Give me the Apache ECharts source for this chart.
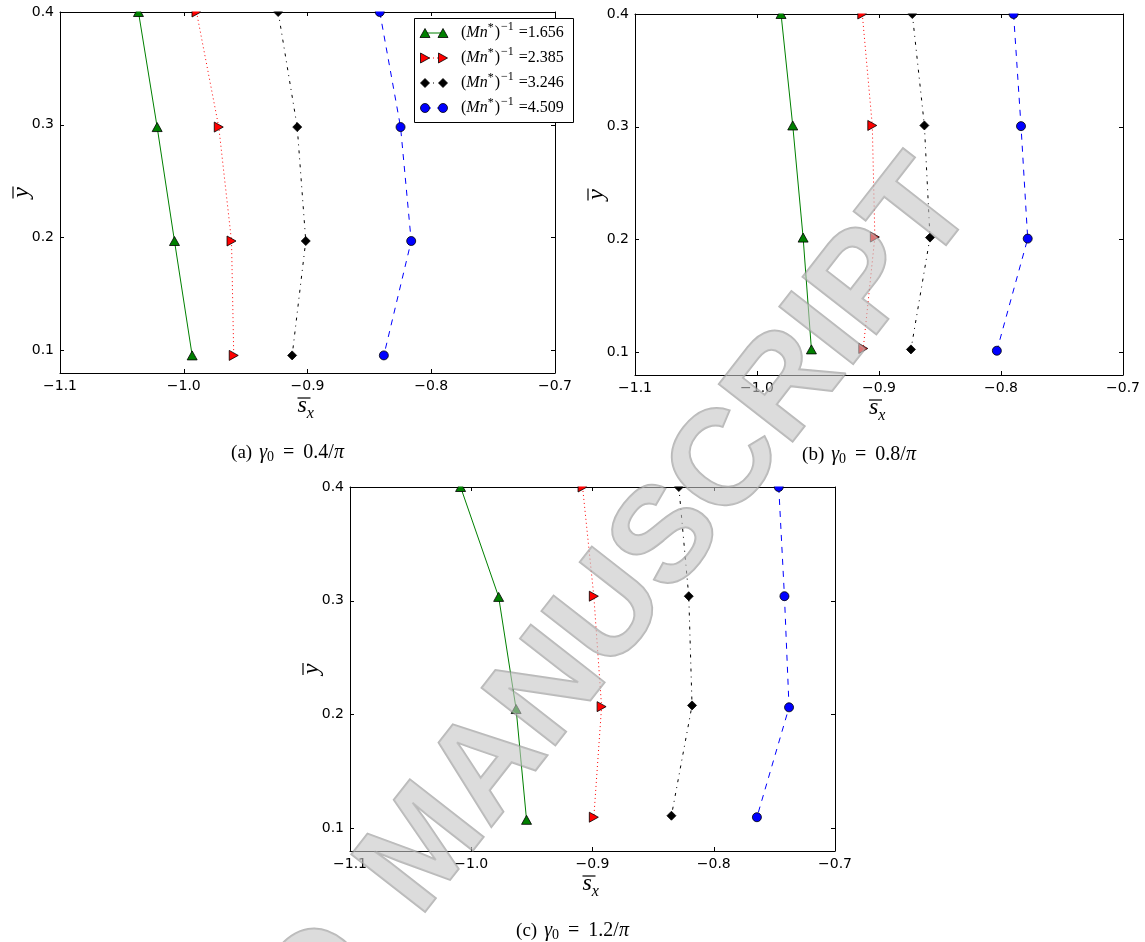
<!DOCTYPE html>
<html>
<head>
<meta charset="utf-8">
<title>Shear stress profiles</title>
<script src="https://cdn.jsdelivr.net/npm/echarts@6/dist/echarts.min.js"></script>
<style>
  html, body { margin: 0; padding: 0; background: #ffffff; }
  #chart { width: 1145px; height: 942px; }
</style>
</head>
<body>
<div id="chart"></div>
<script>
// ---- tick labels ----
const xTicks = [-1.1, -1.0, -0.9, -0.8, -0.7];
const yTicks = [0.1, 0.2, 0.3, 0.4];

// ---- legend values (Mn*)^-1 ----
const invMn = ['1.656', '2.385', '3.246', '4.509'];

// ---- panel captions (gamma_0 values) ----
const panelTags = ['(a)', '(b)', '(c)'];
const gamma0 = ['0.4/', '0.8/', '1.2/'];

// ---- panel (a): gamma_0 = 0.4/pi ----
const ysA = [0.400, 0.298, 0.197, 0.0956];
const sxA_1656 = [-1.0366, -1.0215, -1.0075, -0.9932];
const sxA_2385 = [-0.9897, -0.9717, -0.9614, -0.9596];
const sxA_3246 = [-0.9237, -0.9083, -0.9014, -0.9124];
const sxA_4509 = [-0.8416, -0.8248, -0.8162, -0.8383];

// ---- panel (b): gamma_0 = 0.8/pi ----
const ysB_1656 = [0.400, 0.3012, 0.2018, 0.1027];
const ysB_2385 = [0.400, 0.3012, 0.2023, 0.1035];
const ysB_3246 = [0.400, 0.3012, 0.2018, 0.1027];
const ysB_4509 = [0.400, 0.3006, 0.2009, 0.1015];
const sxB_1656 = [-0.9803, -0.9707, -0.9622, -0.9554];
const sxB_2385 = [-0.9137, -0.9055, -0.9034, -0.9129];
const sxB_3246 = [-0.8727, -0.8628, -0.8582, -0.8738];
const sxB_4509 = [-0.7897, -0.7836, -0.7781, -0.8034];

// ---- panel (c): gamma_0 = 1.2/pi ----
const ysC_1656 = [0.400, 0.3034, 0.2048, 0.1074];
const ysC_2385 = [0.400, 0.3040, 0.2069, 0.1097];
const ysC_3246 = [0.400, 0.3040, 0.2080, 0.1110];
const ysC_4509 = [0.400, 0.3040, 0.2063, 0.1097];
const sxC_1656 = [-1.0088, -0.9774, -0.9630, -0.9544];
const sxC_2385 = [-0.9082, -0.8989, -0.8925, -0.8989];
const sxC_3246 = [-0.8288, -0.8206, -0.8179, -0.8349];
const sxC_4509 = [-0.7464, -0.7417, -0.7379, -0.7644];

const panels = [
  [[sxA_1656, ysA], [sxA_2385, ysA], [sxA_3246, ysA], [sxA_4509, ysA]],
  [[sxB_1656, ysB_1656], [sxB_2385, ysB_2385], [sxB_3246, ysB_3246], [sxB_4509, ysB_4509]],
  [[sxC_1656, ysC_1656], [sxC_2385, ysC_2385], [sxC_3246, ysC_3246], [sxC_4509, ysC_4509]]
];

// ---- layout ----
const gridRects = [
  { left: 60,  top: 12,  width: 495, height: 361 },
  { left: 635, top: 14,  width: 488, height: 361 },
  { left: 350, top: 487, width: 485, height: 364 }
];

// line / marker styles for the four curves
const curveStyles = [
  { color: '#008000', symbol: 'triangle', rotate: 0,   size: [10, 9], dash: 'solid' },
  { color: '#ff0000', symbol: 'triangle', rotate: -90, size: [10, 9], dash: [1, 3] },
  { color: '#000000', symbol: 'diamond',  rotate: 0,   size: [9, 9],  dash: [3, 5, 1, 5] },
  { color: '#0000ff', symbol: 'circle',   rotate: 0,   size: 9,       dash: [6, 6] }
];

const SERIF = '"Liberation Serif", "DejaVu Serif", serif';
const SANS = '"DejaVu Sans", sans-serif';

const measureCtx = document.createElement('canvas').getContext('2d');
function textWidth(t, font) { measureCtx.font = font; return measureCtx.measureText(t).width; }

// lay out a run of text pieces (for sub/superscripts) as separate text elements
function textRun(pieces, x, y, align, z) {
  const widths = pieces.map(p => textWidth(p.t, p.font));
  const total = widths.reduce((s, w, i) => s + w + (pieces[i].gap || 0), 0);
  let pos = align === 'center' ? x - total / 2 : x;
  const out = [];
  pieces.forEach((p, i) => {
    pos += p.gap || 0;
    out.push({
      type: 'text', x: pos, y: y + (p.dy || 0), z: z, silent: true,
      style: { text: p.t, font: p.font, fill: '#000', textAlign: 'left', textVerticalAlign: 'middle' }
    });
    pos += widths[i];
  });
  return out;
}

const fmt = v => (v < 0 ? '\u2212' : '') + Math.abs(v).toFixed(1);

const xAxes = [], yAxes = [], series = [], graphics = [];

gridRects.forEach((g, p) => {
  const tickStyle = { inside: true, length: 4, lineStyle: { color: '#000', width: 1 } };
  const lineStyle = { onZero: false, lineStyle: { color: '#000', width: 1 } };
  ['bottom', 'top'].forEach((pos, k) => {
    xAxes.push({
      type: 'value', gridIndex: p, position: pos, min: -1.1, max: -0.7,
      axisLine: lineStyle,
      axisTick: Object.assign({ customValues: xTicks }, tickStyle),
      axisLabel: {
        show: k === 0, customValues: xTicks, formatter: fmt,
        fontFamily: SANS, fontSize: 14, color: '#000', margin: 6
      },
      splitLine: { show: false }
    });
  });
  ['left', 'right'].forEach((pos, k) => {
    yAxes.push({
      type: 'value', gridIndex: p, position: pos, min: 0.08, max: 0.4,
      axisLine: lineStyle,
      axisTick: Object.assign({ customValues: yTicks }, tickStyle),
      axisLabel: {
        show: k === 0, customValues: yTicks, formatter: fmt,
        fontFamily: SANS, fontSize: 14, color: '#000', margin: 6
      },
      splitLine: { show: false }
    });
  });

  panels[p].forEach((curve, k) => {
    const st = curveStyles[k];
    series.push({
      type: 'line', xAxisIndex: 2 * p, yAxisIndex: 2 * p,
      name: invMn[k],
      data: curve[0].map((sx, i) => [sx, curve[1][i]]),
      symbol: st.symbol, symbolSize: st.size, symbolRotate: st.rotate,
      showSymbol: true, showAllSymbol: true, clip: false, silent: true,
      lineStyle: { color: st.color, width: 1, type: st.dash },
      itemStyle: { color: st.color, borderColor: '#000', borderWidth: 0.8 },
      z: 3
    });
  });

  const bottom = g.top + g.height;
  const xc = g.left + g.width / 2;

  // markers sitting on the top edge are cut by the frame
  graphics.push({
    type: 'rect', z: 40, silent: true,
    shape: { x: g.left + 1, y: g.top - 8, width: g.width - 2, height: 7.5 },
    style: { fill: '#ffffff' }
  });

  // x-axis name: s-bar with subscript x
  const sx = xc - 5, sy = bottom + 33;
  graphics.push(...textRun([
    { t: 's', font: 'italic 24px ' + SERIF },
    { t: 'x', font: 'italic 16px ' + SERIF, dy: 8, gap: 0 }
  ], sx - 5, sy, 'left', 50));
  graphics.push({
    type: 'line', z: 50, silent: true,
    shape: { x1: sx - 5, y1: sy - 8, x2: sx + 8, y2: sy - 8 },
    style: { stroke: '#000', lineWidth: 1.2 }
  });

  // y-axis name: y-bar, rotated
  const yx = g.left - 38, yy = g.top + g.height / 2;
  graphics.push({
    type: 'text', x: yx, y: yy, rotation: Math.PI / 2, z: 50, silent: true,
    style: { text: 'y', font: 'italic 24px ' + SERIF, fill: '#000', textAlign: 'center', textVerticalAlign: 'middle' }
  });
  graphics.push({
    type: 'line', z: 50, silent: true,
    shape: { x1: yx - 9, y1: yy - 6, x2: yx - 9, y2: yy + 6 },
    style: { stroke: '#000', lineWidth: 1.2 }
  });

  // panel caption
  graphics.push(...textRun([
    { t: panelTags[p], font: '19px ' + SERIF },
    { t: '\u03b3', font: 'italic 20px ' + SERIF, gap: 7 },
    { t: '0', font: '14px ' + SERIF, dy: 4 },
    { t: '=', font: '20px ' + SERIF, gap: 9 },
    { t: gamma0[p], font: '20px ' + SERIF, gap: 9 },
    { t: '\u03c0', font: 'italic 20px ' + SERIF }
  ], xc - 20, bottom + 80, 'center', 50));
});

// ---- legend of panel (a) ----
const lg = { x: 414, y: 18, w: 159, h: 104, row0: 33, step: 25, m1: 425, m2: 443, tx: 461 };
graphics.push({
  type: 'rect', z: 60, silent: true,
  shape: { x: lg.x + 0.5, y: lg.y + 0.5, width: lg.w, height: lg.h },
  style: { fill: '#ffffff', stroke: '#000', lineWidth: 1 }
});
function markerShape(k, cx, cy) {
  const st = curveStyles[k];
  const style = { fill: st.color, stroke: '#000', lineWidth: 0.8 };
  if (k === 0) return { type: 'polygon', z: 62, silent: true, shape: { points: [[cx, cy - 4.5], [cx + 5, cy + 4.5], [cx - 5, cy + 4.5]] }, style };
  if (k === 1) return { type: 'polygon', z: 62, silent: true, shape: { points: [[cx + 4.5, cy], [cx - 4.5, cy - 5], [cx - 4.5, cy + 5]] }, style };
  if (k === 2) return { type: 'polygon', z: 62, silent: true, shape: { points: [[cx, cy - 4.5], [cx + 4.5, cy], [cx, cy + 4.5], [cx - 4.5, cy]] }, style };
  return { type: 'circle', z: 62, silent: true, shape: { cx: cx, cy: cy, r: 4.5 }, style };
}
invMn.forEach((val, k) => {
  const cy = lg.row0 + k * lg.step;
  const st = curveStyles[k];
  graphics.push({
    type: 'line', z: 61, silent: true,
    shape: { x1: lg.m1, y1: cy, x2: lg.m2, y2: cy },
    style: { stroke: st.color, lineWidth: 1, lineDash: st.dash === 'solid' ? null : st.dash }
  });
  graphics.push(markerShape(k, lg.m1, cy), markerShape(k, lg.m2, cy));
  graphics.push(...textRun([
    { t: '(', font: '16px ' + SERIF },
    { t: 'Mn', font: 'italic 16px ' + SERIF },
    { t: '*', font: '12px ' + SERIF, dy: -5 },
    { t: ')', font: '16px ' + SERIF, gap: 1 },
    { t: '\u22121', font: '12px ' + SERIF, dy: -6, gap: 1 },
    { t: '=' + val, font: '16px ' + SERIF, gap: 5 }
  ], lg.tx, cy, 'left', 63));
});

// ---- diagonal stamp across the figure ----
const stampFont = 'bold 136px "Liberation Sans", sans-serif';
const stampPrefix = textWidth('ACCEPTED ', stampFont);
graphics.push({
  type: 'group', x: 390, y: 896, rotation: 52 * Math.PI / 180, z: 100, silent: true,
  children: [{
    type: 'text', x: -stampPrefix - 20, y: 0, z: 100, silent: true,
    style: {
      text: 'ACCEPTED', font: stampFont,
      fill: '#c4c4c4', stroke: '#8a8a8a', lineWidth: 2, textAlign: 'left', textVerticalAlign: 'middle',
      opacity: 0.6, shadowColor: 'rgba(0,0,0,0.4)', shadowBlur: 6, shadowOffsetX: 2, shadowOffsetY: 3
    }
  }, {
    type: 'text', x: 0, y: 0, z: 100, silent: true,
    style: {
      text: 'MANUSCRIPT', font: stampFont,
      fill: '#c4c4c4', stroke: '#8a8a8a', lineWidth: 2, textAlign: 'left', textVerticalAlign: 'middle',
      opacity: 0.6, shadowColor: 'rgba(0,0,0,0.4)', shadowBlur: 6, shadowOffsetX: 2, shadowOffsetY: 3
    }
  }]
});

const chart = echarts.init(document.getElementById('chart'), null, { renderer: 'canvas' });
chart.setOption({
  backgroundColor: '#ffffff',
  animation: false,
  grid: gridRects.map(g => Object.assign({ outerBoundsMode: 'none', containLabel: false }, g)),
  xAxis: xAxes,
  yAxis: yAxes,
  series: series,
  graphic: { elements: graphics }
});
</script>
</body>
</html>
